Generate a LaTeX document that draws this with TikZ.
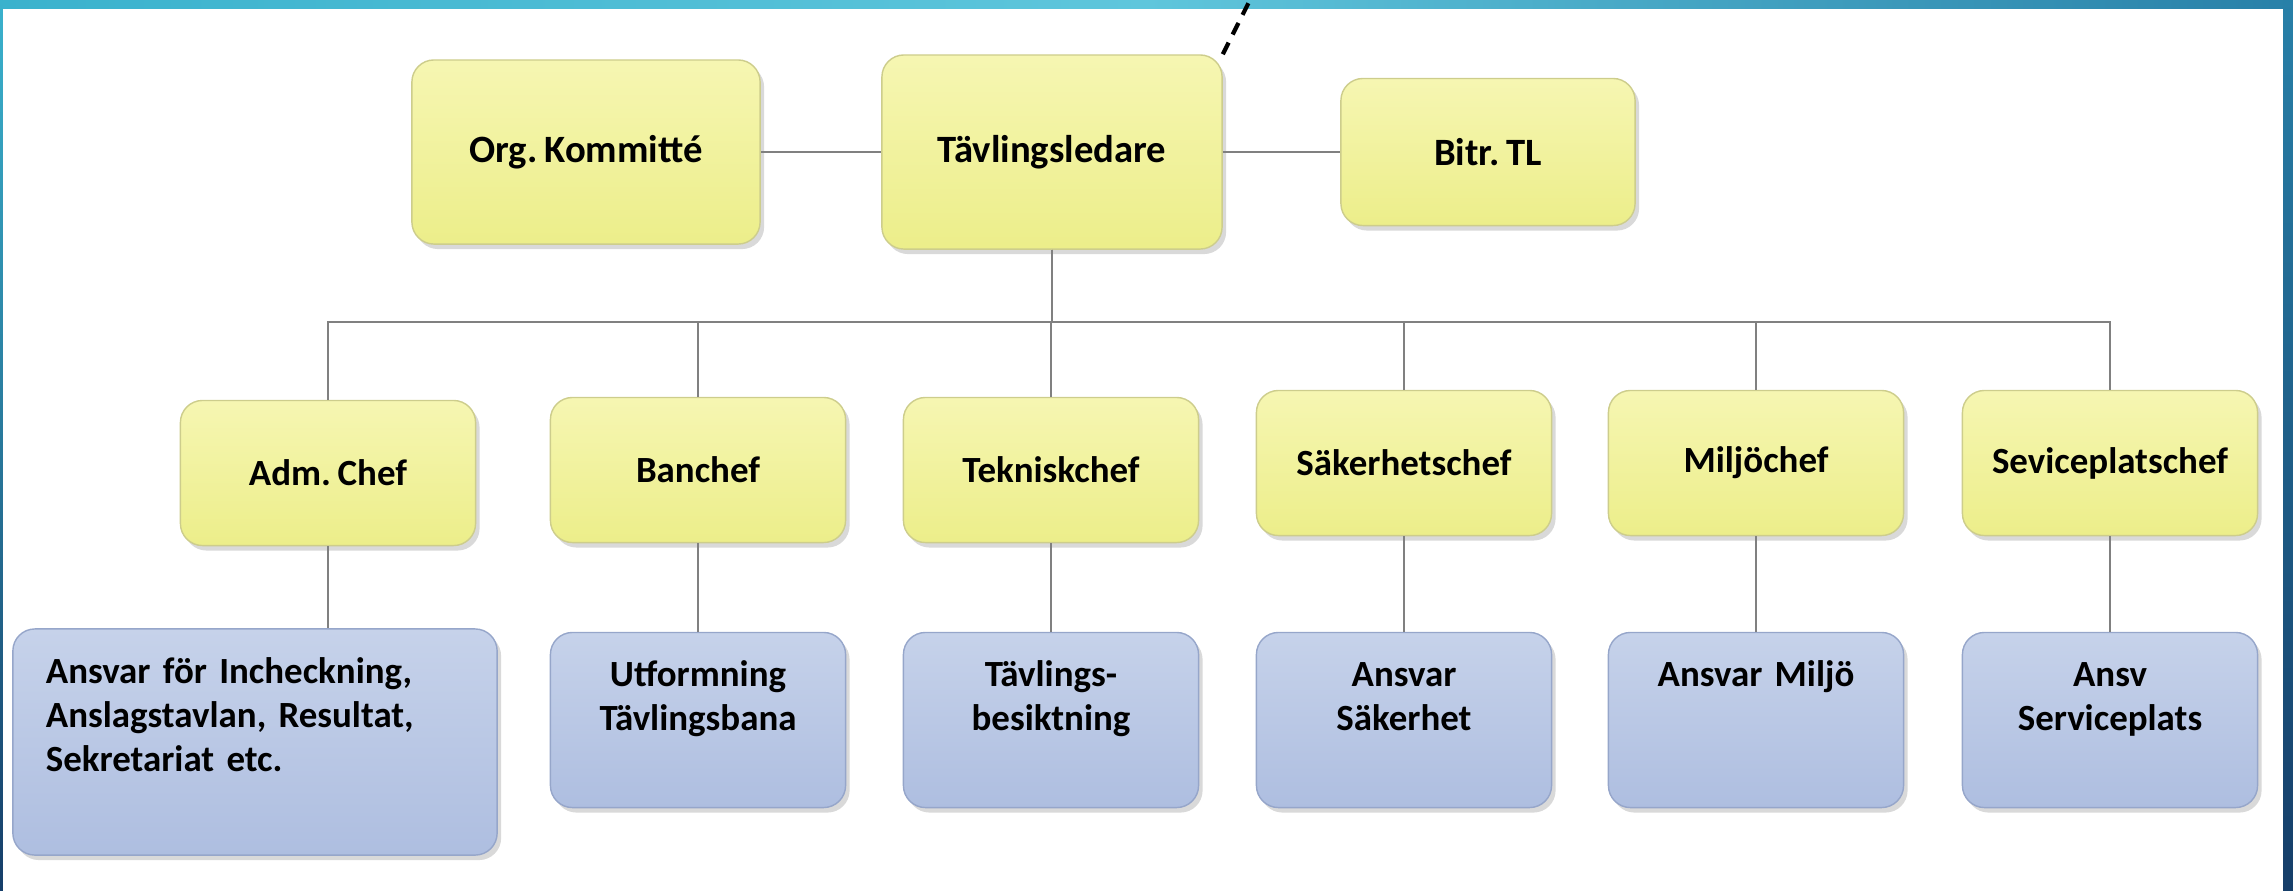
\documentclass[tikz,border=0pt]{standalone}
\usepackage{fontspec}
\setmainfont{Carlito}[WordSpace=0.8]
\usetikzlibrary{shadows}

\definecolor{yeltop}{RGB}{246,246,178}
\definecolor{yelbot}{RGB}{236,238,138}
\definecolor{yeledge}{RGB}{205,205,140}
\definecolor{blutop}{RGB}{198,210,234}
\definecolor{blubot}{RGB}{174,190,224}
\definecolor{bluedge}{RGB}{150,166,202}
\definecolor{linkgrey}{RGB}{128,128,128}
\definecolor{tealA}{RGB}{58,178,205}
\definecolor{tealB}{RGB}{95,198,220}
\definecolor{tealC}{RGB}{40,128,168}
\definecolor{navy}{RGB}{22,62,105}

\begin{document}
\begin{tikzpicture}[x=0.01cm,y=-0.01cm,
  card/.style={rounded corners=0.22cm, font=\fontsize{10.5}{12.4}\selectfont\bfseries\frenchspacing,
    drop shadow={opacity=0.3,shadow xshift=0.04cm,shadow yshift=-0.05cm}},
  boss/.style={card, draw=yeledge, top color=yeltop, bottom color=yelbot, align=center},
  head/.style={boss, font=\fontsize{11}{13}\selectfont\bfseries\frenchspacing},
  chief/.style={boss, minimum width=2.95cm, minimum height=1.45cm},
  duty/.style={card, draw=bluedge, top color=blutop, bottom color=blubot, align=center,
    text width=2.75cm, inner xsep=0.1cm, inner ysep=0.2cm, text height=0.34cm, text depth=1.01cm},
  link/.style={draw=linkgrey, line width=0.6pt}]

\useasboundingbox (0,0) rectangle (2293,890);

% frame
\shade[left color=tealA, right color=tealC, middle color=tealB] (0,0) rectangle (2293,8);
\shade[top color=tealA, bottom color=navy] (0,0) rectangle (3,890);
\shade[top color=tealC, bottom color=navy] (2283,0) rectangle (2293,890);

% top row
\node[head, minimum width=3.48cm, minimum height=1.84cm] (org) at (586,152) {Org. Kommitté};
\node[head, minimum width=3.40cm, minimum height=1.94cm] (tl) at (1052,152) {Tävlingsledare};
\node[head, minimum width=2.94cm, minimum height=1.47cm] (bitr) at (1488,152) {Bitr. TL};
\draw[link] (org.east) -- (tl.west);
\draw[link] (tl.east) -- (bitr.west);

\coordinate (cut) at (1249,2);
\draw[black, line width=1.2pt, dash pattern=on 0.13cm off 0.09cm] (tl.north east) -- (cut);

% chiefs
\coordinate (bus) at (0,322);
\foreach \n/\x/\y/\t in {adm/328/473/Adm. Chef, ban/698/470/Banchef, tek/1051/470/Tekniskchef,
                         sak/1404/463/Säkerhetschef, mil/1756/463/Miljöchef, ser/2110/463/Seviceplatschef}
	{
	\node[chief] (\n) at (\x,\y) {\t};
	\draw[link] (tl.south) |- (\n.north |- bus) -- (\n.north);
	}

% duties
\node[duty, align=left, text width=4.18cm, inner xsep=0.33cm, text height=0.35cm, text depth=1.51cm]
	(adm-sub) at (255,742) {Ansvar för Incheckning,\\Anslagstavlan, Resultat,\\Sekretariat etc.};
\draw[link] (adm.south) -- (adm.south |- adm-sub.north);
\foreach \n/\x/\t in {ban/698/{Utformning\\Tävlingsbana}, tek/1051/{Tävlings-\\besiktning},
                      sak/1404/{Ansvar\\Säkerhet}, mil/1756/{Ansvar Miljö}, ser/2110/{Ansv\\Serviceplats}}
	{
	\node[duty] (\n-sub) at (\x,720) {\t};
	\draw[link] (\n.south) -- (\n-sub.north);
	}
\end{tikzpicture}
\end{document}
